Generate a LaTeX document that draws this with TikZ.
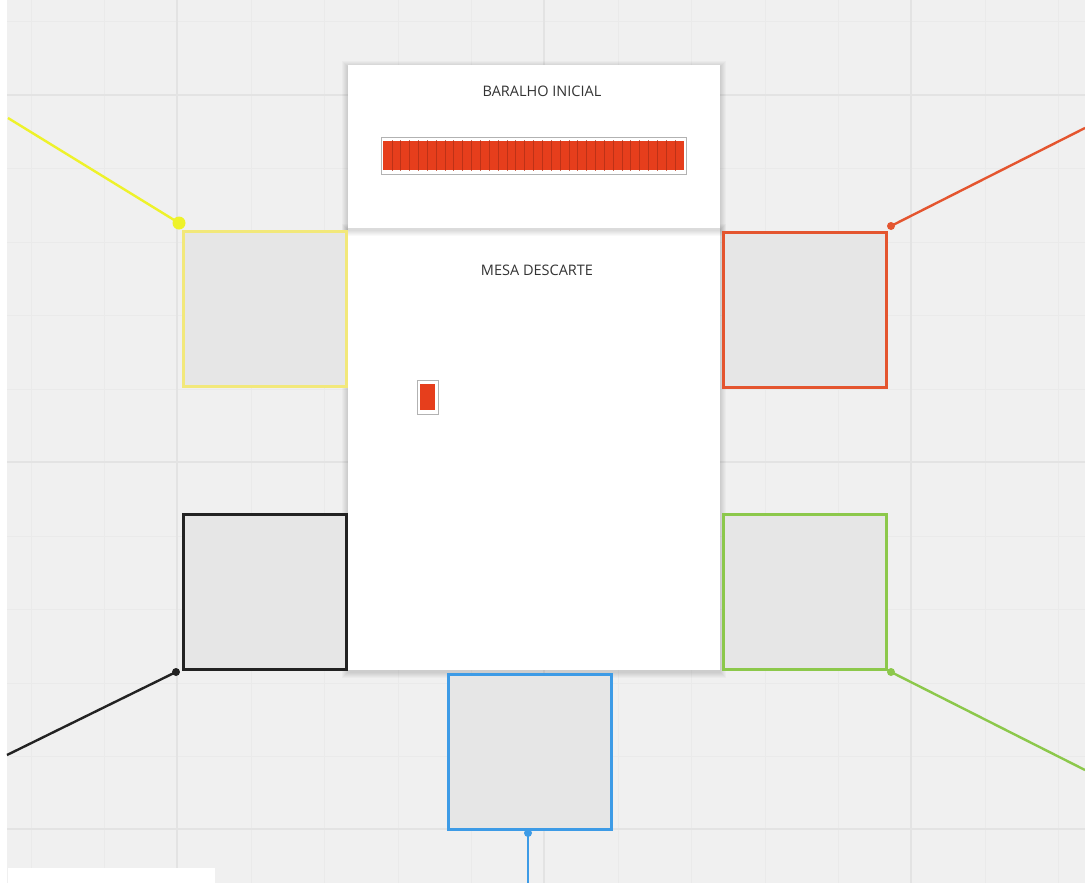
\documentclass[tikz,border=0pt]{standalone}
\usepackage{fontspec}
\setmainfont{Open Sans}
\definecolor{bg}{HTML}{F0F0F0}
\definecolor{gminor}{HTML}{EAEAEA}
\definecolor{gmajor}{HTML}{E3E3E3}
\definecolor{boxfill}{HTML}{E6E6E6}
\definecolor{cyellowbox}{HTML}{F2E87A}
\definecolor{cyellow}{HTML}{EEF22A}
\definecolor{cred}{HTML}{E4552F}
\definecolor{cblack}{HTML}{222222}
\definecolor{cgreen}{HTML}{8CC84B}
\definecolor{cblue}{HTML}{3D9BE6}
\definecolor{cardred}{HTML}{E63E1C}
\definecolor{txt}{HTML}{333333}
\tikzset{
  seat/.style={draw=#1, line width=2.6pt, fill=boxfill, minimum width=163pt, minimum height=155pt, inner sep=0pt, anchor=north west},
  link/.style={draw=#1, line width=2.4pt},
  dot/.style={circle, fill=#1, inner sep=0pt, minimum size=8pt},
  panel/.style={fill=white, draw=none, inner sep=0pt, anchor=north west},
  shade/.style={fill=black, fill opacity=0.022},
  title/.style={font=\fontsize{14.5}{16}\selectfont, text=txt}
}
\begin{document}
\begin{tikzpicture}[x=1pt,y=-1pt]
\useasboundingbox (0,0) rectangle (1085,883);
\fill[bg] (0,0) rectangle (1085,883);
\fill[white] (0,0) rectangle (7,883);
% grid
\foreach \gx in {31,104,251,324,398,471,618,691,765,838,985,1058} {\draw[gminor, line width=1pt] (\gx,0) -- (\gx,883);}
\foreach \gy in {22,168,242,315,389,536,609,683,756} {\draw[gminor, line width=1pt] (7,\gy) -- (1085,\gy);}
\foreach \gx in {177,544,911} {\draw[gmajor, line width=1.2pt] (\gx,0) -- (\gx,883);}
\foreach \gy in {95,462,829} {\draw[gmajor, line width=1.2pt] (7,\gy) -- (1085,\gy);}
\fill[white] (8,868) rectangle (215,883);
% panels with soft shadows
\foreach \k in {1,...,6} {\fill[shade] (348-\k,228-\k+2) rectangle (720+\k,670+\k+2);}
\node[panel, minimum width=372pt, minimum height=442pt] (mesa) at (348,228) {};
\foreach \k in {1,...,6} {\fill[shade] (348-\k,65-\k+2) rectangle (720+\k,228+\k+2);}
\node[panel, minimum width=372pt, minimum height=163pt] (baralho) at (348,65) {};
\node[title] (tbar) at (542,91) {BARALHO INICIAL};
\node[title] (tmesa) at (537,270) {MESA DESCARTE};
% deck
\node[draw=gray!60, line width=0.8pt, fill=white, minimum width=305pt, minimum height=37pt, inner sep=0pt, anchor=north west] (deck) at (381,137) {};
\fill[cardred] (383,141) rectangle (684,170);
\foreach \i in {1,...,33} {
  \draw[cardred!75!black, line width=0.7pt, opacity=0.7] ({383+\i*8.85},140) -- ({383+\i*8.85},171);
}
% single card
\node[draw=gray!60, line width=0.8pt, fill=white, minimum width=21pt, minimum height=34pt, inner sep=0pt, anchor=north west] (card) at (417,380) {};
\fill[cardred] (420,384) rectangle (435,410);
% seats
\node[seat=cyellowbox] (sy) at (182,230) {};
\node[seat=cred] (sr) at (722,231) {};
\node[seat=cblack] (sk) at (182,513) {};
\node[seat=cgreen] (sg) at (722,513) {};
\node[seat=cblue] (sb) at (447,673) {};
% connectors
\coordinate (ey) at (8,118);
\coordinate (er) at (1085,128);
\coordinate (ek) at (7,755);
\coordinate (eg) at (1085,770);
\coordinate (eb) at (528,883);
\node[dot=cyellow, minimum size=13pt] (dy) at (179,223) {};
\node[dot=cred] (dr) at (891,226) {};
\node[dot=cblack] (dk) at (176,672) {};
\node[dot=cgreen] (dg) at (891,672) {};
\node[dot=cblue] (db) at (528,833) {};
\draw[link=cyellow] (dy.center) -- (ey);
\draw[link=cred] (dr.center) -- (er);
\draw[link=cblack] (dk.center) -- (ek);
\draw[link=cgreen] (dg.center) -- (eg);
\draw[link=cblue] (db.center) -- (eb);
\end{tikzpicture}
\end{document}
